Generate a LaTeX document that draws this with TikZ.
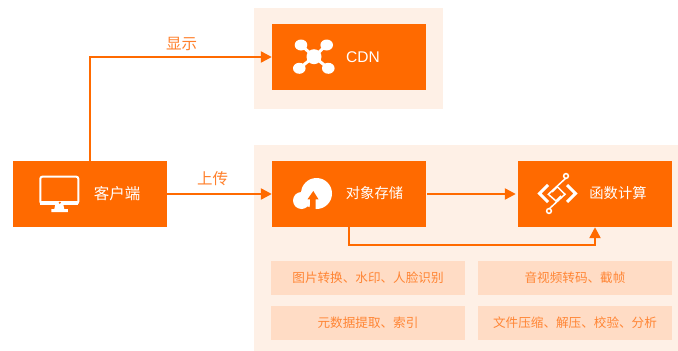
\documentclass[tikz,border=0pt]{standalone}
\usepackage{fontspec}
\setmainfont{Noto Sans CJK SC}
\newfontfamily\latinfont{Liberation Sans}
\usetikzlibrary{arrows.meta}
\definecolor{brand}{HTML}{FF6A00}
\definecolor{panelbg}{HTML}{FEF0E6}
\definecolor{tagbg}{HTML}{FFDCC5}
\definecolor{tagtext}{HTML}{FF8534}
\definecolor{labeltext}{HTML}{FF7F2A}
\tikzset{
	panel/.style={
		draw=none,
		fill=panelbg,
		anchor=north west,
		inner sep=0pt
	},
	box/.style={
		draw=none,
		fill=brand,
		minimum width=154pt,
		minimum height=66pt,
		inner sep=0pt
	},
	box text/.style={
		text=white,
		font=\fontsize{14.3}{15}\selectfont,
		inner sep=0pt
	},
	tag/.style={
		draw=none,
		fill=tagbg,
		text=tagtext,
		minimum width=194pt,
		minimum height=34pt,
		inner sep=0pt,
		font=\fontsize{12.6}{13}\selectfont
	},
	flow label/.style={
		text=labeltext,
		inner sep=0pt,
		font=\fontsize{15.5}{15.5}\selectfont
	},
	flow/.style={
		draw=brand,
		line width=2.3pt,
		-{Triangle[length=11pt,width=11pt]}
	},
	monitor/.pic={
		\draw [white, line width=2pt, rounded corners=2pt] (-19,-17.3) rectangle (19,9.5);
		\fill [white] (-19,7) rectangle (19,10.5);
		\fill [brand] (0.5,8.7) circle (1.2);
		\fill [white] (-4,10.5) -- (4,10.5) -- (5,15) -- (8.5,15) -- (8.5,18) -- (-8,18) -- (-8,15) -- (-5,15) -- cycle;
	},
	network/.pic={
		\fill [white] (0,0) circle (7.5);
		\foreach \a/\b in {-13/-11.7, 12.7/-11.7, -14.7/11.6, 14.3/11.6} {
			\draw [white, line width=3pt] (0,0) -- (\a,\b);
			\fill [white] (\a,\b) ellipse (6.3 and 5.5);
		}
	},
	cloud/.pic={
		\fill [white] (3.5,-0.5) circle (15.5);
		\fill [white] (-11.5,6.5) circle (8.5);
		\fill [brand] (0.3,-3) -- (5.5,5.3) -- (2.5,5.3) -- (2.5,16) -- (-5,16) .. controls (-2,12) and (-3,8) .. (-3,5.3) -- (-5.5,5.3) -- cycle;
	},
	circuit/.pic={
		\draw [white, line width=3pt] (-9.5,-8.5) -- (-18,0) -- (-9.5,8.5);
		\draw [white, line width=3pt] (9.5,-8.5) -- (18,0) -- (9.5,8.5);
		\draw [white, line width=1.5pt] (8.5,-15.5) -- (-9.2,0.8) -- (-1.5,7.5) -- (3.5,2.5);
		\draw [white, line width=1.5pt] (-8.5,15.5) -- (7.5,0.8) -- (-0.2,-6.8) -- (-5.5,-1.5);
		\draw [white, line width=1.5pt, fill=brand] (8.5,-17.5) circle (2.4);
		\draw [white, line width=1.5pt, fill=brand] (-8.5,17.5) circle (2.4);
	},
}
\begin{document}
\begin{tikzpicture}[x=1pt, y=-1pt]

\useasboundingbox (0,0) rectangle (678,351);

\node [panel, minimum width=189pt, minimum height=101pt] (panel-top) at (254,8) {};
\node [panel, minimum width=424pt, minimum height=206pt] (panel-bottom) at (254,145) {};

\foreach \m/\x/\y in {client/90/194, cdn/349/57, oss/349/194, fc/595/194}
	\node [box] (\m) at (\x,\y) {};

\pic at (59.3,194) {monitor};
\pic at (314,56.7) {network};
\pic at (313,194) {cloud};
\pic at (557.5,193.5) {circuit};

\node [box text, font=\fontsize{15.5}{15.5}\selectfont] (client-text) at (117,194) {客户端};
\node [box text, font=\fontsize{15.5}{15.5}\latinfont] (cdn-text) at (363,57) {CDN};
\node [box text] (oss-text) at (374.5,193.5) {对象存储};
\node [box text] (fc-text) at (618,193.5) {函数计算};

\foreach \l/\x/\y [count=\i] in {
	图片转换、水印、人脸识别/368/278,
	音视频转码、截帧/575/278,
	元数据提取、索引/368/323,
	文件压缩、解压、校验、分析/575/323}
	\node [tag] (tag-\i) at (\x,\y) {\l};

\draw [flow] (client.north) |- (cdn.west);
\draw [flow] (client.east) -- (oss.west);
\draw [flow, shorten <=1pt, shorten >=2pt] (oss.east) -- (fc.west);
\draw [flow] (oss.south) -- ++(0,18) -| (fc.south);

\node [flow label] (show-label) at (181.5,43.5) {显示};
\node [flow label] (upload-label) at (212.5,178.5) {上传};

\end{tikzpicture}
\end{document}
